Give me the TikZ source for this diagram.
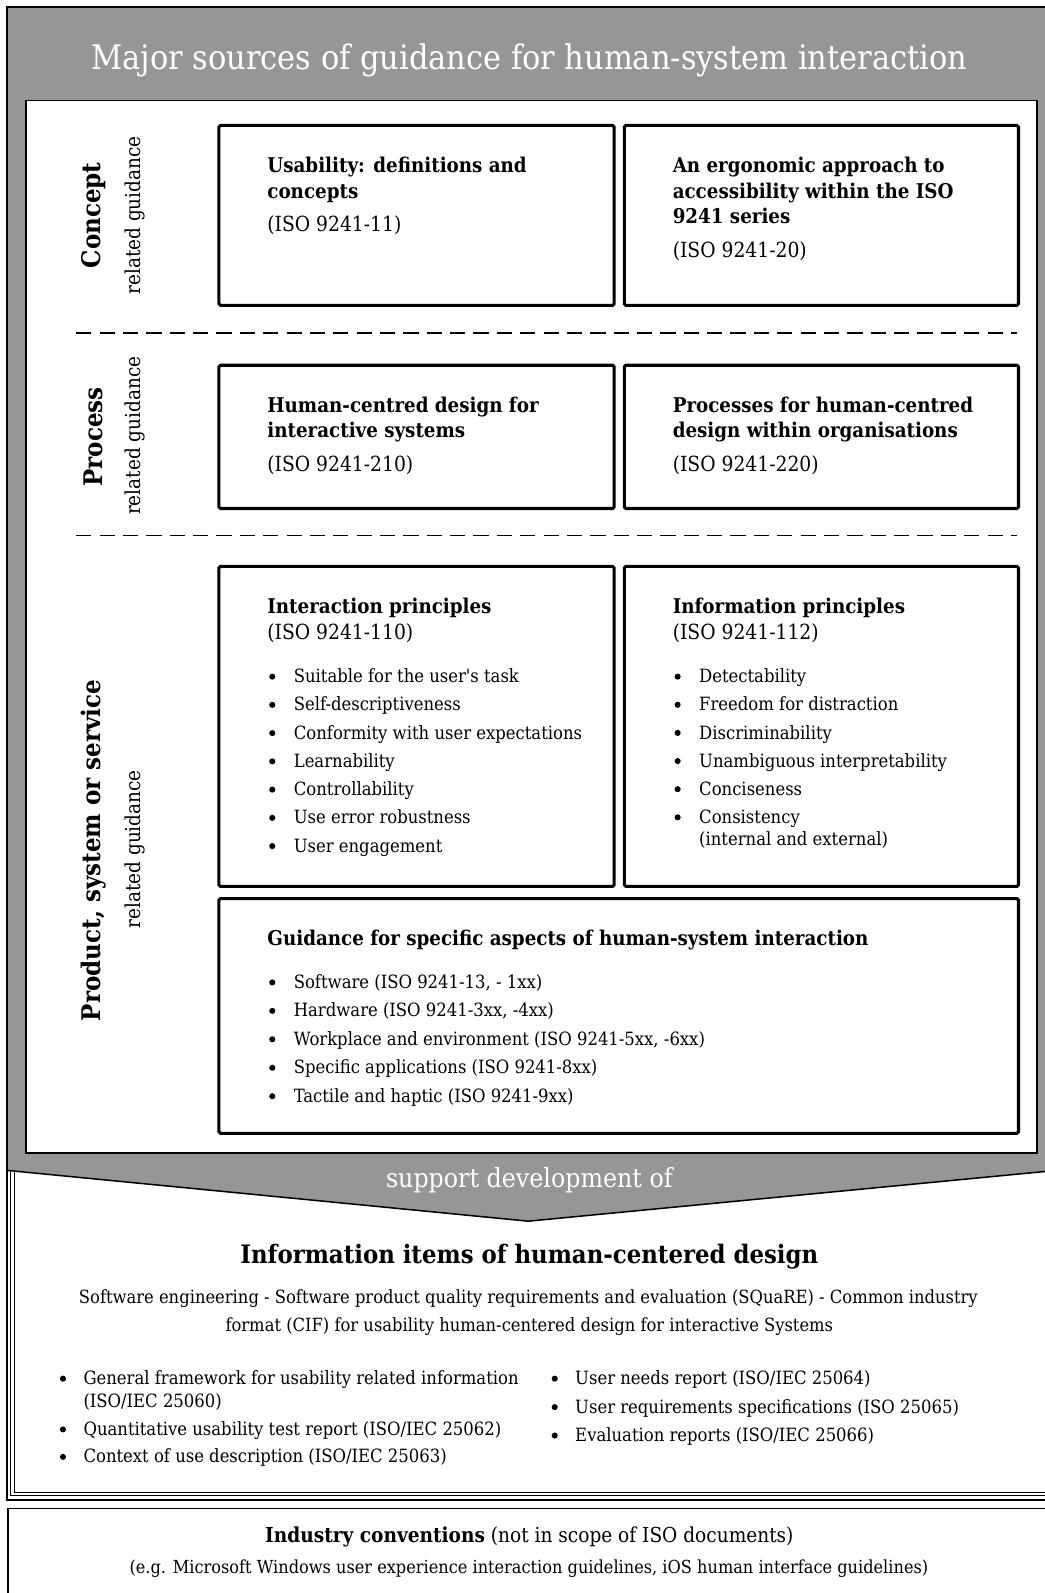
\documentclass[tikz,border=0pt]{standalone}
\usepackage{fontspec}
\setmainfont{DejaVuSerifCondensed}[Extension=.ttf,Ligatures=TeXOff,BoldFont=DejaVuSerifCondensed-Bold,ItalicFont=DejaVuSerifCondensed-Italic,BoldItalicFont=DejaVuSerifCondensed-BoldItalic]
\definecolor{hdrgray}{HTML}{969696}
\tikzset{
  box/.style={draw=black, line width=3pt, rounded corners=1.5pt, fill=white, anchor=north west, inner sep=0},
  ttl/.style={inner sep=0, anchor=west, text height=14pt, text depth=2pt, font=\bfseries\fontsize{20}{25}\selectfont},
  iso/.style={inner sep=0, anchor=west, text height=14pt, text depth=2pt, font=\fontsize{20.5}{25}\selectfont},
  itm/.style={inner sep=0, anchor=west, text height=12pt, text depth=2pt, font=\fontsize{18}{25}\selectfont},
  side/.style={rotate=90, inner sep=0, font=\bfseries\fontsize{25.2}{28}\selectfont},
  sidesub/.style={rotate=90, inner sep=0, font=\fontsize{20.2}{24}\selectfont},
  sep/.style={line width=1.5pt, dash pattern=on 15pt off 8pt},
  bul/.style={fill=black},
}
\begin{document}
\begin{tikzpicture}[x=1pt,y=-1pt]
\useasboundingbox[fill=white] (0,0) rectangle (1028,1568);
% grey frame with arrow
\fill[hdrgray] (7,7) -- (1040,7) -- (1040,1152) -- (520,1202) -- (7,1152) -- cycle;
\draw[line width=1.5pt] (1040,7) -- (7,7) -- (7,1152);
\draw[line width=1.5pt] (7,1152) -- (520,1202) -- (1040,1152);
\node[white, inner sep=0, font=\fontsize{33.3}{38}\selectfont] (hdr) at (521,59) {Major sources of guidance for human-system interaction};
\node[white, inner sep=0, font=\fontsize{26}{30}\selectfont] (sup) at (521,1162) {support development of};
% inner white panel
\node[draw=black, line width=1.5pt, fill=white, anchor=north west, inner sep=0, minimum width=995, minimum height=1036] (panel) at (25,98) {};
% side labels
\node[side] (c1) at (92,212) {Concept};
\node[sidesub] (c2) at (133,212) {related guidance};
\node[side] (p1) at (92,430) {Process};
\node[sidesub] (p2) at (133,429) {related guidance};
\node[side] (s1) at (92,837) {Product, system or service};
\node[sidesub] (s2) at (133,836) {related guidance};
% separators
\coordinate (d1a) at (75,328); \coordinate (d1b) at (1001,328);
\coordinate (d2a) at (75,527); \coordinate (d2b) at (1001,527);
\draw[sep] (d1a) -- (d1b);
\draw[sep] (d2a) -- (d2b);
% boxes
\node[box, minimum width=389, minimum height=177] (b1) at (214,122) {};
\node[box, minimum width=388, minimum height=177] (b2) at (613,122) {};
\node[box, minimum width=389, minimum height=141] (b3) at (214,358) {};
\node[box, minimum width=388, minimum height=141] (b4) at (613,358) {};
\node[box, minimum width=389, minimum height=315] (b5) at (214,556) {};
\node[box, minimum width=388, minimum height=315] (b6) at (613,556) {};
\node[box, minimum width=787, minimum height=231] (b7) at (214,883) {};
% box 1
\node[ttl] (t1a) at (263,164) {Usability: definitions and};
\node[ttl] (t1b) at (263,189) {concepts};
\node[iso] (t1c) at (263,222) {(ISO 9241-11)};
% box 2
\node[ttl] (t2a) at (662,164) {An ergonomic approach to};
\node[ttl] (t2b) at (662,189) {accessibility within the ISO};
\node[ttl] (t2c) at (662,214) {9241 series};
\node[iso] (t2d) at (662,247) {(ISO 9241-20)};
% box 3
\node[ttl] (t3a) at (263,400) {Human-centred design for};
\node[ttl] (t3b) at (263,425) {interactive systems};
\node[iso] (t3c) at (263,458) {(ISO 9241-210)};
% box 4
\node[ttl] (t4a) at (662,400) {Processes for human-centred};
\node[ttl] (t4b) at (662,425) {design within organisations};
\node[iso] (t4c) at (662,458) {(ISO 9241-220)};
% box 5
\node[ttl] (t5a) at (263,598) {Interaction principles};
\node[iso] (t5b) at (263,623) {(ISO 9241-110)};
\foreach \t [count=\i] in {Suitable for the user's task, Self-descriptiveness, Conformity with user expectations, Learnability, Controllability, Use error robustness, User engagement}{
  \fill[bul] (268,{666+27.8*(\i-1)}) circle (3);
  \node[itm] (l5\i) at (289,{667+27.8*(\i-1)}) {\t};
}
% box 6
\node[ttl] (t6a) at (662,598) {Information principles};
\node[iso] (t6b) at (662,623) {(ISO 9241-112)};
\foreach \t [count=\i] in {Detectability, Freedom for distraction, Discriminability, Unambiguous interpretability, Conciseness, Consistency}{
  \fill[bul] (667,{666+27.7*(\i-1)}) circle (3);
  \node[itm] (l6\i) at (688,{667+27.7*(\i-1)}) {\t};
}
\node[itm] (l67) at (688,827) {(internal and external)};
% box 7
\node[ttl] (t7a) at (263,925) {Guidance for specific aspects of human-system interaction};
\foreach \t [count=\i] in {Software (ISO 9241-13{,} - 1xx), Hardware (ISO 9241-3xx{,} -4xx), Workplace and environment (ISO 9241-5xx{,} -6xx), Specific applications (ISO 9241-8xx), Tactile and haptic (ISO 9241-9xx)}{
  \fill[bul] (268,{967+28*(\i-1)}) circle (3);
  \node[itm] (l7\i) at (289,{968+28*(\i-1)}) {\t};
}
% lower box (information items)
\draw[line width=2pt] (1040,1476) -- (7,1476) -- (7,1152);
\draw[line width=0.8pt] (1040,1472) -- (10.5,1472) -- (10.5,1152);
\draw[line width=0.8pt] (1040,1468.5) -- (14,1468.5) -- (14,1152);
\node[inner sep=0, font=\bfseries\fontsize{25}{30}\selectfont] (ii) at (521,1237) {Information items of human-centered design};
\node[inner sep=0, font=\fontsize{17.9}{28}\selectfont] (ij1) at (520,1278) {Software engineering - Software product quality requirements and evaluation (SQuaRE) - Common industry};
\node[inner sep=0, font=\fontsize{17.9}{28}\selectfont] (ij2) at (521,1306) {format (CIF) for usability human-centered design for interactive Systems};
\fill[bul] (62,1357) circle (3);
\node[itm] (ia1) at (82,1358) {General framework for usability related information};
\node[itm] (ia2) at (82,1380) {(ISO/IEC 25060)};
\fill[bul] (62,1407) circle (3);
\node[itm] (ia3) at (82,1408) {Quantitative usability test report (ISO/IEC 25062)};
\fill[bul] (62,1434) circle (3);
\node[itm] (ia4) at (82,1435) {Context of use description (ISO/IEC 25063)};
\fill[bul] (546,1357) circle (3);
\node[itm] (ib1) at (566,1358) {User needs report (ISO/IEC 25064)};
\fill[bul] (546,1385) circle (3);
\node[itm] (ib2) at (566,1386) {User requirements specifications (ISO 25065)};
\fill[bul] (546,1413) circle (3);
\node[itm] (ib3) at (566,1414) {Evaluation reports (ISO/IEC 25066)};
% industry conventions
\node[draw=black, line width=1.5pt, anchor=north west, inner sep=0, minimum width=1040, minimum height=100] (ind) at (7,1484) {};
\node[inner sep=0, font=\fontsize{20.3}{24}\selectfont] (ic1) at (521,1513) {\textbf{Industry conventions} (not in scope of ISO documents)};
\node[inner sep=0, font=\fontsize{17.7}{24}\selectfont] (ic2) at (520.5,1544) {(e.g. Microsoft Windows user experience interaction guidelines, iOS human interface guidelines)};
\end{tikzpicture}
\end{document}
